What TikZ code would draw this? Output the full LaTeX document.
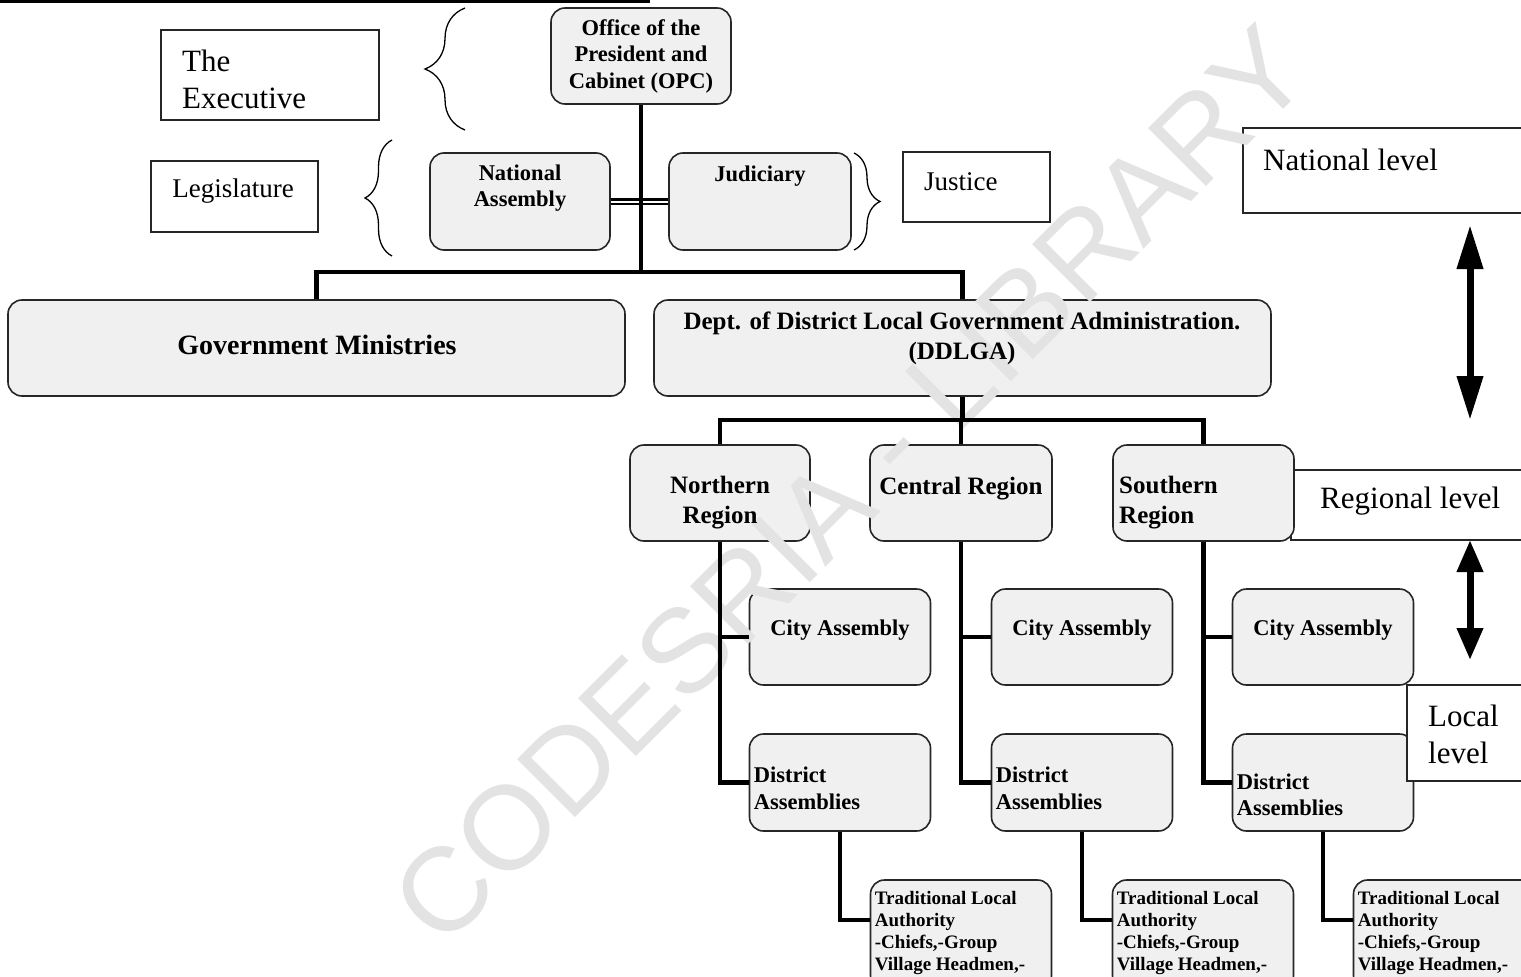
\documentclass[tikz,border=0pt]{standalone}
\usepackage{fontspec}
\setmainfont{Liberation Serif}
\newfontfamily\stampfont{Liberation Sans}
\usetikzlibrary{positioning,decorations.pathreplacing,arrows.meta}

\tikzset{
  office/.style={draw=black!85, line width=1.6pt, fill=gray!12, rounded corners=14pt, inner sep=0pt},
  tag/.style={draw=black!85, line width=1.4pt, fill=white, inner sep=0pt},
  unit text/.style={font=\bfseries\fontsize{22.5}{26.5}\selectfont, align=center, inner sep=0pt},
  big unit/.style={font=\bfseries\fontsize{25}{30}\selectfont},
  small unit/.style={font=\bfseries\fontsize{19}{22}\selectfont, align=left},
  tag text/.style={font=\fontsize{31}{37}\selectfont, align=left, inner sep=0pt},
  link/.style={line width=4.5pt},
  curly/.style={decorate, decoration={brace, amplitude=#1}, line width=1.3pt},
  updown/.style={line width=7pt, {Triangle[length=#1,width=25pt]}-{Triangle[length=#1,width=25pt]}},
}

\begin{document}
\begin{tikzpicture}[x=1pt,y=-1pt]

  \useasboundingbox (0,0) rectangle (1521,977);
  \clip (0,0) rectangle (1521,977);
  \fill[white] (0,0) rectangle (1521,977);

  \draw[line width=3pt] (0,1.5) -- (650,1.5);

  % side labels
  \node[tag, minimum width=218pt, minimum height=90pt] (exec) at (270,75) {};
  \node[tag, minimum width=167pt, minimum height=71pt] (legis) at (234.5,196.5) {};
  \node[tag, minimum width=147pt, minimum height=70pt] (justice) at (976.5,187) {};
  \node[tag, minimum width=290pt, minimum height=85pt] (natlevel) at (1388,170.5) {};
  \node[tag, minimum width=240pt, minimum height=70pt] (reglevel) at (1411,505) {};

  % national level
  \node[office, minimum width=180pt, minimum height=96pt] (opc) at (641,56) {};
  \node[office, minimum width=180pt, minimum height=97pt] (nass) at (520,201.5) {};
  \node[office, minimum width=182pt, minimum height=97pt] (jud) at (760,201.5) {};
  \node[office, minimum width=617pt, minimum height=96pt] (govmin) at (316.5,348) {};
  \node[office, minimum width=617pt, minimum height=96pt] (ddlga) at (962.5,348) {};

  % regions
  \node[office, minimum width=180pt, minimum height=96pt] (north) at (720,493) {};
  \node[office, minimum width=182pt, minimum height=96pt] (central) at (961,493) {};
  \node[office, minimum width=181pt, minimum height=96pt] (south) at (1203.5,493) {};

  % local level
  \foreach \i/\x in {1/840,2/1082,3/1323} {
    \node[office, minimum width=181pt, minimum height=96pt] (city\i) at (\x,637) {};
    \node[office, minimum width=181pt, minimum height=97pt] (dist\i) at (\x,782.5) {};
    \node[office, minimum width=181pt, minimum height=110pt] (trad\i) at (\x+121,935) {};
  }
  \node[tag, minimum width=125pt, minimum height=96pt] (loclevel) at (1469.5,733) {};

  % watermark
  \node[font=\stampfont\fontsize{119}{119}\selectfont, text=gray!22, rotate=45] (stamp) at (850,485) {CODESRIA - LIBRARY};

  % connectors
  \coordinate (nbar) at (641,272);
  \coordinate (rbar) at (961,420);
  \draw[line width=2.2pt, double, double distance=2pt] (nass.east) -- (jud.west);
  \draw[link] (opc.south) -- (nbar);
  \draw[link] (govmin.north) |- (nbar) -| (ddlga.north);
  \draw[link] (ddlga.south) -- (ddlga.south |- rbar);
  \draw[link] (north.north) |- (rbar) -| (south.north);
  \draw[link] (central.north) -- (central.north |- rbar);
  \foreach \r/\i in {north/1,central/2,south/3} {
    \draw[link] (\r.south) |- (dist\i.west);
    \draw[link] (\r.south |- city\i.west) -- (city\i.west);
    \draw[link] (dist\i.south) |- ([yshift=15pt]trad\i.west);
  }

  % braces and level arrows
  \draw[curly=40pt] (465,130) -- (465,8);
  \draw[curly=27pt] (392,256) -- (392,140);
  \draw[curly=26pt] (854,153) -- (854,250);
  \draw[updown=44pt] (1470,225) -- (1470,420);
  \draw[updown=32pt] (1470,540) -- (1470,660);

  % texts
  \node[tag text, anchor=west] (exec text) at (182,79) {The\\Executive};
  \node[tag text, font=\fontsize{27}{32}\selectfont] (legis text) at (233,191) {Legislature};
  \node[tag text, anchor=west, font=\fontsize{27}{32}\selectfont] (justice text) at (924,182) {Justice};
  \node[tag text, anchor=west] (natlevel text) at (1263,160) {National level};
  \node[tag text, anchor=west] (reglevel text) at (1320,501) {Regional level};
  \node[tag text, anchor=west] (loclevel text) at (1428,734) {Local\\level};

  \node[unit text] (opc text) at (641,56) {Office of the\\President and\\Cabinet (OPC)};
  \node[unit text] (nass text) at (520,188) {National\\Assembly};
  \node[unit text] (jud text) at (760,176) {Judiciary};
  \node[unit text, font=\bfseries\fontsize{28}{32}\selectfont] (govmin text) at (317,345) {Government Ministries};
  \node[unit text, big unit] (ddlga text) at (962,338) {Dept. of District Local Government Administration.\\(DDLGA)};
  \node[unit text, big unit] (north text) at (720,503) {Northern\\Region};
  \node[unit text, big unit] (central text) at (961,489) {Central Region};
  \node[unit text, big unit, align=left, anchor=west] (south text) at (1119,503) {Southern\\Region};

  \foreach \i/\dy in {1/-6,2/-6,3/-12.5} {
    \node[unit text] (city\i text) at ([yshift=7pt]city\i.center) {City Assembly};
    \node[unit text, align=left, anchor=west] (dist\i text) at ([xshift=5pt,yshift=\dy pt]dist\i.west) {District\\Assemblies};
    \node[unit text, small unit, anchor=west] (trad\i text) at ([xshift=5pt,yshift=2pt]trad\i.west) {Traditional Local\\Authority\\-Chiefs,-Group\\Village Headmen,-};
  }

\end{tikzpicture}
\end{document}
